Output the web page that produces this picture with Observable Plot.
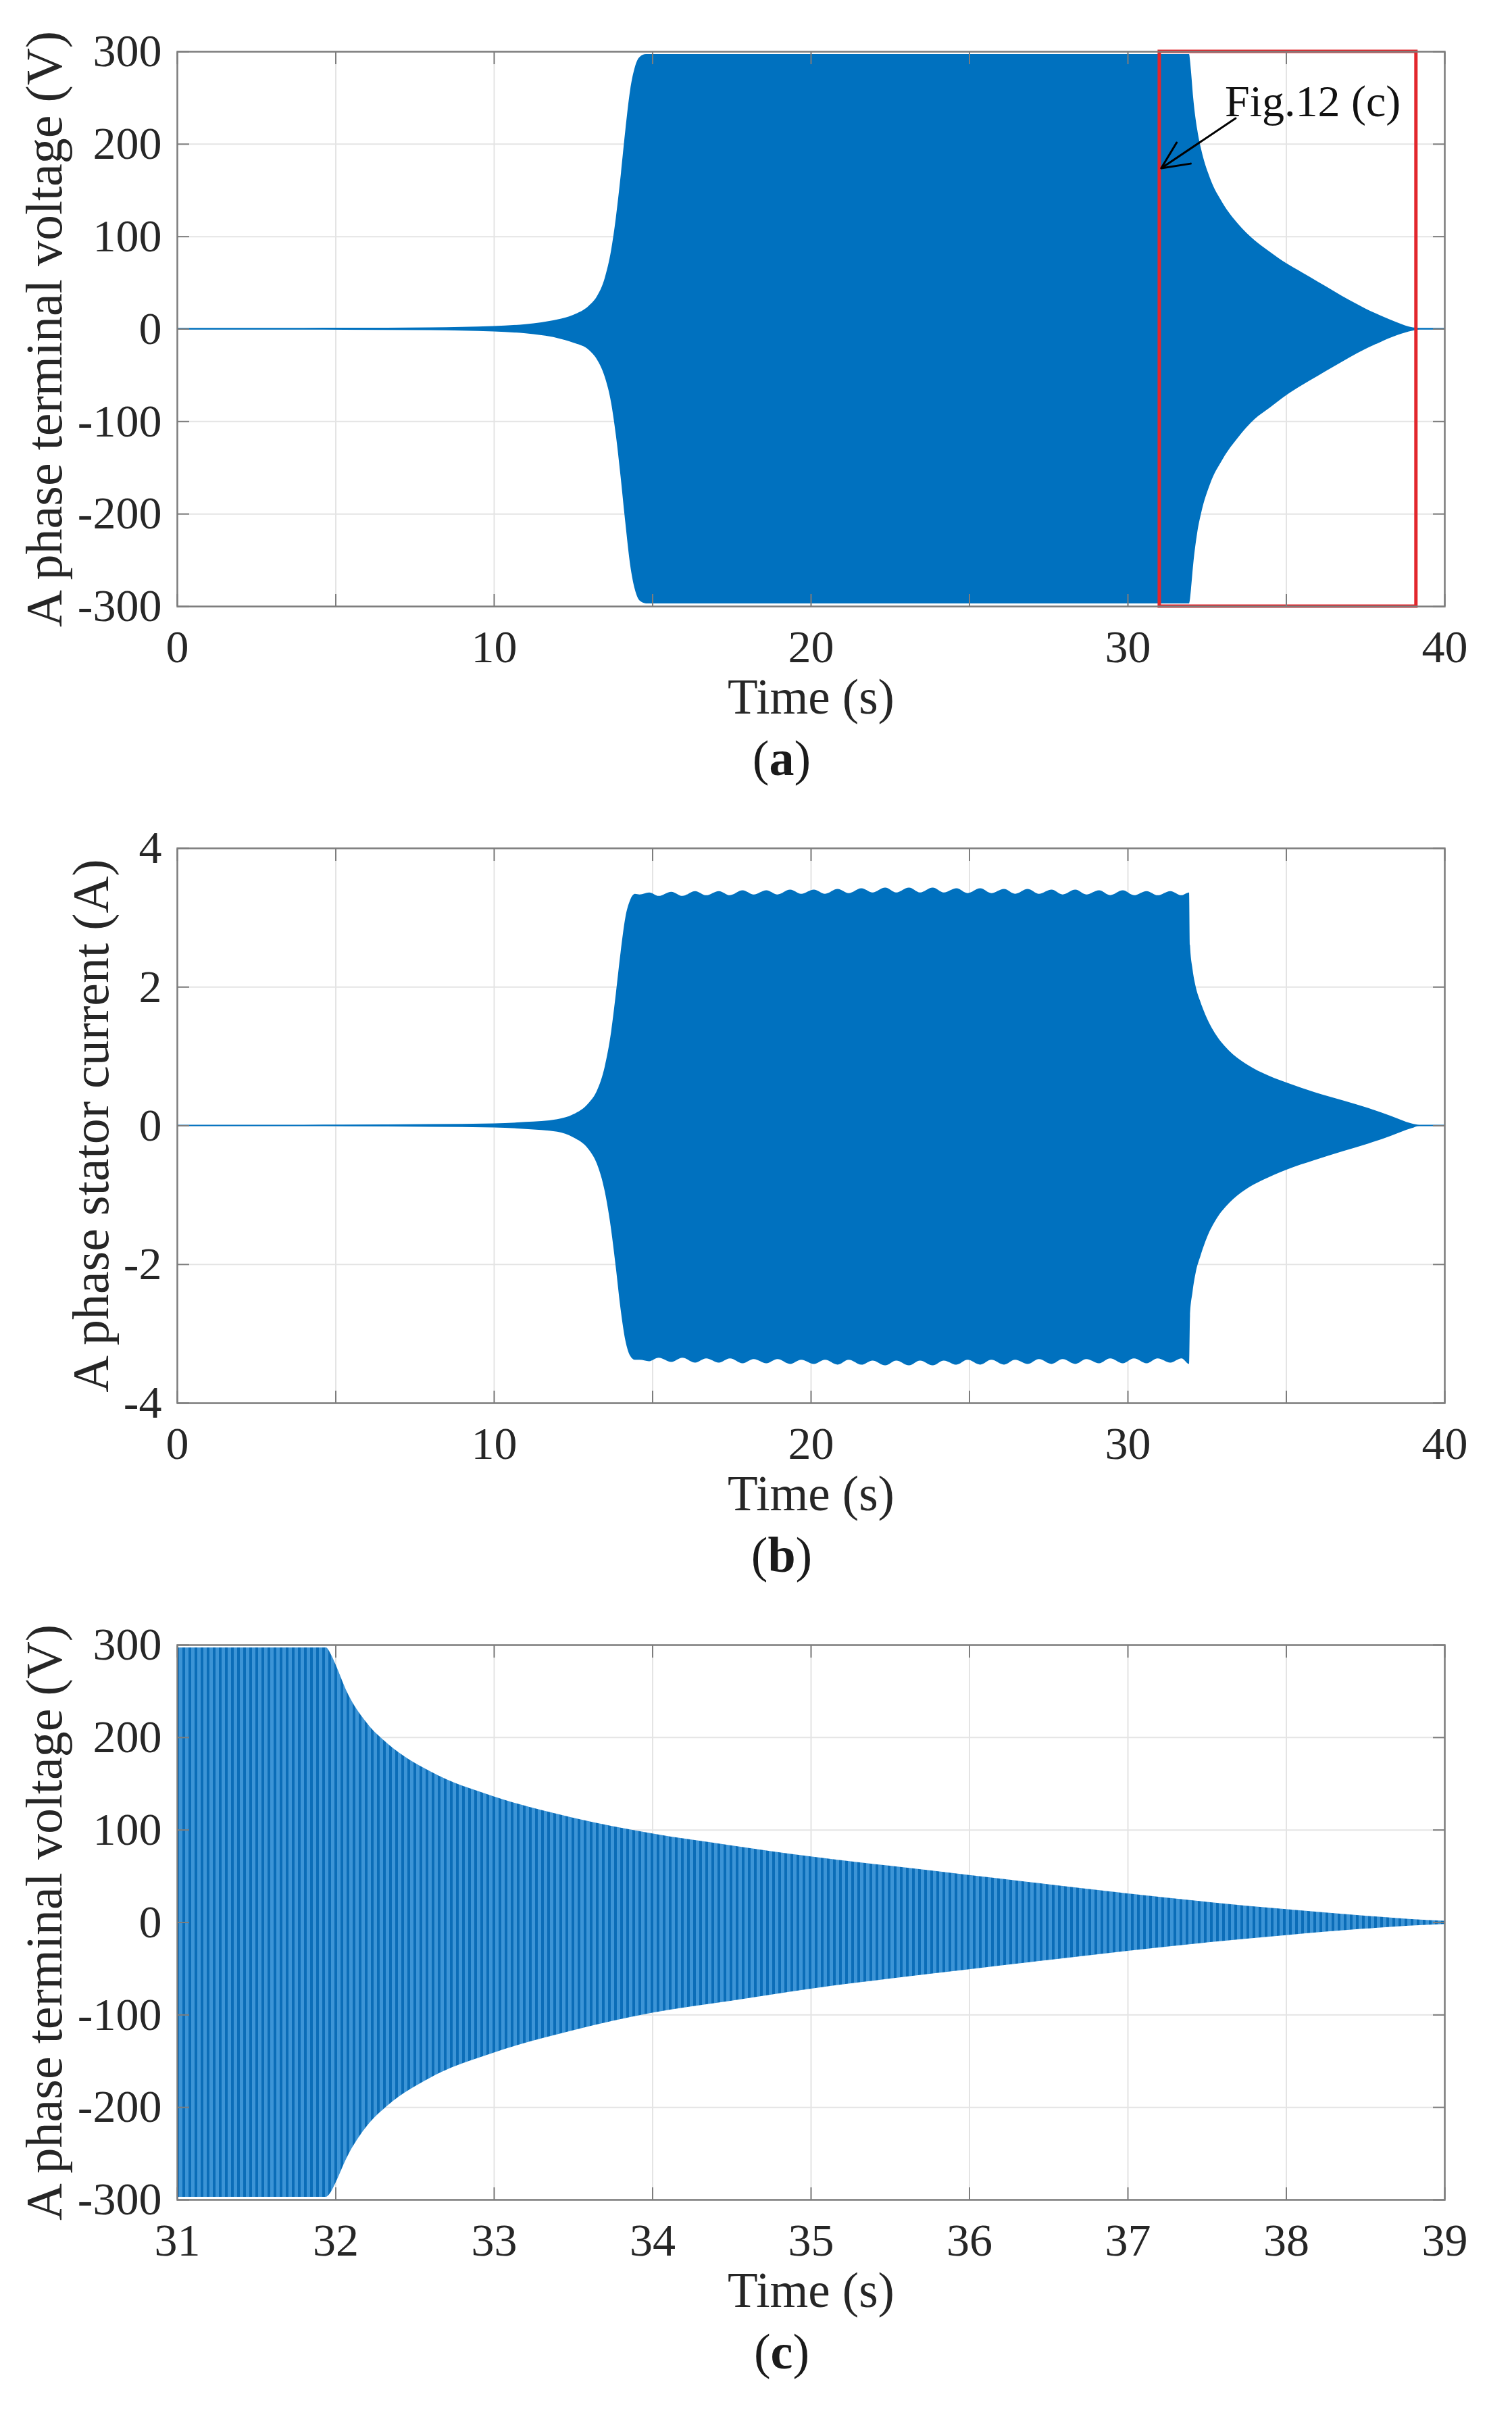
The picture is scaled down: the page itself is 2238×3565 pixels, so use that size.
<!DOCTYPE html>
<html>
<head>
<meta charset="utf-8">
<script src="https://cdn.jsdelivr.net/npm/d3@7"></script>
<script src="https://cdn.jsdelivr.net/npm/@observablehq/plot@0.6"></script>
<style>
html, body { margin: 0; padding: 0; background: #fff; }
#page { position: relative; width: 2238px; height: 3565px; background: #fff; overflow: hidden;
        font-family: "Liberation Serif", "DejaVu Serif", serif; color: #1a1a1a; }
.panel { position: absolute; left: 0; }
.cap { position: absolute; width: 300px; text-align: center; font-size: 74px; line-height: 1; }
</style>
</head>
<body>
<div id="page"></div>
<script>
// ---------------- data ----------------
// A-phase terminal voltage envelope (V)
const voltageTime  = [0, 4, 8, 9, 10, 11, 11.5, 12, 12.5, 13, 13.25, 13.5, 13.7, 13.85, 14.0, 14.15, 14.3, 14.45, 14.6, 14.8, 20, 25, 31.94, 31.97, 32.0, 32.07, 32.2, 32.33, 32.6, 33.0, 33.5, 34.0, 34.5, 35, 35.5, 36, 36.5, 37, 37.5, 38, 38.5, 39, 39.2, 40];
const voltageUpper = [1, 1, 1.5, 2, 3, 5, 7, 10, 15, 25, 35, 55, 85, 120, 165, 215, 258, 283, 294, 297, 297, 297, 297, 290, 279, 250, 215, 193, 163, 136, 113, 96, 83, 71, 61, 51, 41, 31, 22, 14, 7, 1.5, 1, 1];
const voltageLower = [-1, -1, -1.5, -2, -3, -5, -7, -10, -15, -23, -33, -52, -80, -115, -160, -210, -255, -282, -294, -297, -297, -297, -297, -292, -282, -255, -220, -198, -168, -141, -117, -98, -85, -72, -61, -51, -41, -31, -22, -14, -7, -2, -1, -1];

// A-phase stator current envelope (A)
const currentTime  = [0, 4, 8, 10, 11, 12, 12.5, 13, 13.25, 13.5, 13.7, 13.85, 14.0, 14.15, 14.3, 14.45, 14.6, 14.9, 15.2, 15.6, 15.95, 16.35, 16.7, 17.1, 17.45, 17.85, 18.2, 18.6, 18.95, 19.35, 19.7, 20.1, 20.45, 20.85, 21.2, 21.6, 21.95, 22.35, 22.7, 23.1, 23.45, 23.85, 24.2, 24.6, 24.95, 25.35, 25.7, 26.1, 26.45, 26.85, 27.2, 27.6, 27.95, 28.35, 28.7, 29.1, 29.45, 29.85, 30.2, 30.6, 30.95, 31.35, 31.7, 31.94, 31.97, 32.05, 32.15, 32.3, 32.5, 32.8, 33.2, 33.7, 34.25, 35.0, 35.9, 36.8, 37.6, 38.3, 38.96, 39.2, 40];
const currentUpper = [0.01, 0.01, 0.02, 0.03, 0.05, 0.09, 0.16, 0.33, 0.5, 0.85, 1.35, 1.9, 2.5, 3.0, 3.25, 3.34, 3.33, 3.36, 3.31, 3.37, 3.31, 3.38, 3.32, 3.38, 3.32, 3.39, 3.33, 3.39, 3.33, 3.40, 3.34, 3.40, 3.34, 3.41, 3.35, 3.42, 3.36, 3.43, 3.36, 3.43, 3.36, 3.43, 3.36, 3.42, 3.35, 3.42, 3.35, 3.41, 3.34, 3.41, 3.34, 3.40, 3.33, 3.40, 3.33, 3.39, 3.32, 3.39, 3.32, 3.38, 3.32, 3.38, 3.32, 3.36, 2.6, 2.25, 2.0, 1.78, 1.55, 1.3, 1.08, 0.9, 0.76, 0.62, 0.48, 0.36, 0.25, 0.14, 0.03, 0.01, 0.01];
const currentLower = [-0.01, -0.01, -0.02, -0.03, -0.05, -0.09, -0.17, -0.35, -0.55, -0.95, -1.5, -2.05, -2.65, -3.1, -3.32, -3.38, -3.38, -3.40, -3.35, -3.41, -3.35, -3.42, -3.36, -3.42, -3.36, -3.43, -3.37, -3.43, -3.37, -3.44, -3.38, -3.44, -3.38, -3.45, -3.38, -3.45, -3.39, -3.46, -3.39, -3.46, -3.39, -3.46, -3.39, -3.45, -3.38, -3.45, -3.38, -3.45, -3.38, -3.44, -3.37, -3.44, -3.37, -3.44, -3.37, -3.43, -3.36, -3.43, -3.36, -3.43, -3.36, -3.42, -3.36, -3.44, -2.75, -2.4, -2.12, -1.88, -1.62, -1.35, -1.12, -0.93, -0.79, -0.64, -0.5, -0.37, -0.26, -0.15, -0.04, -0.01, -0.01];

// axes
const timeDomain     = [0, 40];
const zoomWindow     = [31, 39];
const boxWindow      = [31, 39.1];
const voltageDomain  = [-300, 300];
const currentDomain  = [-4, 4];
const timeTicks      = [0, 5, 10, 15, 20, 25, 30, 35, 40];
const timeTickLabels = [0, 10, 20, 30, 40];
const zoomTicks      = [31, 32, 33, 34, 35, 36, 37, 38, 39];
const voltageTicks   = [-300, -200, -100, 0, 100, 200, 300];
const currentTicks   = [-4, -2, 0, 2, 4];
const xLabel = "Time (s)";
const voltageLabel = "A phase terminal voltage (V)";
const currentLabel = "A phase stator current (A)";
const panelCaptions = ["a", "b", "c"];

// annotation on panel (a)
const annotation = [{label: "Fig.12 (c)", tx: 33.06, ty: 246, x1: 33.4, y1: 228, x2: 31.05, y2: 174}];

// ---------------- drawing ----------------
const W = 2238, mL = 262, mR = 100, mT = 60, mB = 220, innerH = 821;
const frameTops = [76, 1255, 2434];
const BLUE = "#0071bf", GRID = "#e4e4e4", AXIS = "#7d7d7d", TEXT = "#262626";
const FONT = "Liberation Serif, DejaVu Serif, serif";
const fmt = d => String(d);

function rowsOf(t, hi, lo) { return t.map((v, i) => ({t: v, hi: hi[i], lo: lo[i]})); }

function panel({rows, xDomain, yDomain, xTicks, xLabels, yTicks, yLabel, yLabelOffset, fill, extra = []}) {
  const tickStyle = {stroke: AXIS, strokeWidth: 2, tickFormat: () => "", label: null};
  return Plot.plot({
    width: W, height: mT + innerH + mB,
    marginLeft: mL, marginRight: mR, marginTop: mT, marginBottom: mB,
    style: {fontFamily: FONT, background: "transparent", color: TEXT},
    x: {domain: xDomain},
    y: {domain: yDomain},
    marks: [
      Plot.gridX(xTicks, {stroke: GRID, strokeOpacity: 1, strokeWidth: 2}),
      Plot.gridY(yTicks, {stroke: GRID, strokeOpacity: 1, strokeWidth: 2}),
      Plot.areaY(rows, {x: "t", y1: "lo", y2: "hi", fill, curve: "monotone-x", clip: true}),
      ...extra,
      Plot.frame({stroke: AXIS, strokeWidth: 2.5}),
      Plot.axisX(xTicks, {anchor: "bottom", tickSize: -18, ...tickStyle}),
      Plot.axisX(xTicks, {anchor: "top", tickSize: -18, ...tickStyle}),
      Plot.axisY(yTicks, {anchor: "left", tickSize: -18, ...tickStyle}),
      Plot.axisY(yTicks, {anchor: "right", tickSize: -18, ...tickStyle}),
      Plot.axisX(xLabels, {anchor: "bottom", tickSize: 0, tickPadding: 34, fontSize: 68, fontFamily: FONT, tickFormat: fmt, label: null, fill: TEXT}),
      Plot.axisY(yTicks, {anchor: "left", tickSize: 0, tickPadding: 23, fontSize: 68, fontFamily: FONT, tickFormat: fmt, label: null, fill: TEXT}),
      Plot.axisX([], {anchor: "bottom", label: xLabel, labelAnchor: "center", labelArrow: false, labelOffset: 158, fontSize: 73, fontFamily: FONT, fill: TEXT}),
      Plot.axisY([], {anchor: "left", label: yLabel, labelAnchor: "center", labelArrow: false, labelOffset: yLabelOffset, fontSize: 76, fontFamily: FONT, fill: TEXT})
    ]
  });
}

const page = document.getElementById("page");
function place(svg, i) {
  svg.classList.add("panel");
  svg.style.top = (frameTops[i] - mT) + "px";
  page.appendChild(svg);
  const cap = document.createElement("div");
  cap.className = "cap";
  cap.style.left = (1157 - 150) + "px";
  cap.style.top = (frameTops[i] + innerH + 230 - 42) + "px";
  cap.innerHTML = "(<b>" + panelCaptions[i] + "</b>)";
  page.appendChild(cap);
}

const voltageRows = rowsOf(voltageTime, voltageUpper, voltageLower);
const currentRows = rowsOf(currentTime, currentUpper, currentLower);
const zoomBox = [{x1: boxWindow[0], x2: boxWindow[1], y1: voltageDomain[0], y2: voltageDomain[1]}];

const svgA = panel({
  rows: voltageRows, xDomain: timeDomain, yDomain: voltageDomain,
  xTicks: timeTicks, xLabels: timeTickLabels, yTicks: voltageTicks,
  yLabel: voltageLabel, yLabelOffset: 225, fill: BLUE,
  extra: [
    Plot.rect(zoomBox, {x1: "x1", x2: "x2", y1: "y1", y2: "y2", fill: "none", stroke: "#e2262c", strokeWidth: 5}),
    Plot.arrow(annotation, {x1: "x1", y1: "y1", x2: "x2", y2: "y2", stroke: "#000", strokeWidth: 3, headLength: 26, headAngle: 50}),
    Plot.text(annotation, {x: "tx", y: "ty", text: "label", textAnchor: "start", fontSize: 66, fontFamily: FONT, fill: "#111"})
  ]
});
place(svgA, 0);

const svgB = panel({
  rows: currentRows, xDomain: timeDomain, yDomain: currentDomain,
  xTicks: timeTicks, xLabels: timeTickLabels, yTicks: currentTicks,
  yLabel: currentLabel, yLabelOffset: 156, fill: BLUE
});
place(svgB, 1);

const svgC = panel({
  rows: voltageRows, xDomain: zoomWindow, yDomain: voltageDomain,
  xTicks: zoomTicks, xLabels: zoomTicks, yTicks: voltageTicks,
  yLabel: voltageLabel, yLabelOffset: 225, fill: "url(#osc)"
});
const defs = document.createElementNS("http://www.w3.org/2000/svg", "defs");
defs.innerHTML = '<pattern id="osc" patternUnits="userSpaceOnUse" width="9" height="12">' +
  '<rect width="9" height="12" fill="#3c94d6"/><rect width="4" height="12" fill="#0b6db8"/></pattern>';
svgC.insertBefore(defs, svgC.firstChild);
place(svgC, 2);
</script>
</body>
</html>
